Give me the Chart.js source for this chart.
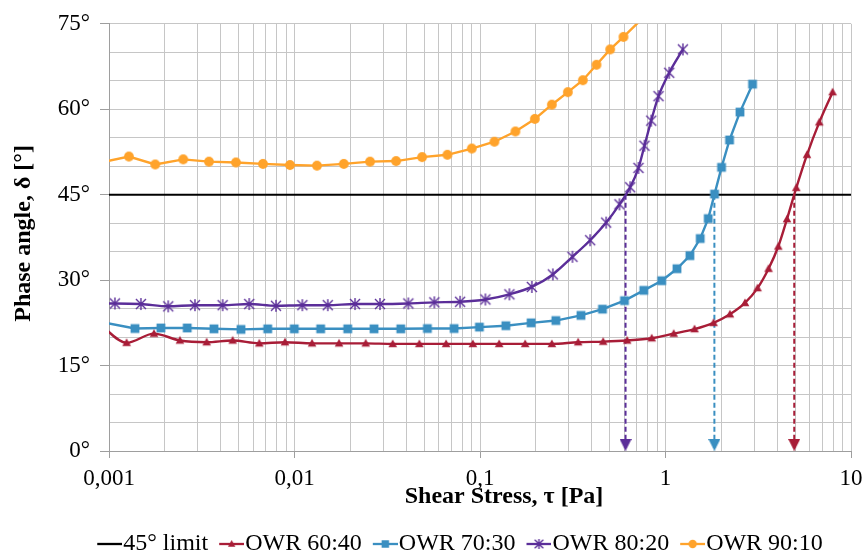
<!DOCTYPE html>
<html>
<head>
<meta charset="utf-8">
<title>Phase angle vs shear stress</title>
<script src="https://cdn.jsdelivr.net/npm/chart.js@4/dist/chart.umd.min.js"></script>
<style>
html, body { margin: 0; padding: 0; background: #ffffff; }
canvas { display: block; }
</style>
</head>
<body>
<canvas id="chart" width="866" height="559"></canvas>
<script>
// ---------------- data ----------------
const xTickValues = [0.001, 0.01, 0.1, 1, 10];
const xTickLabels = ['0,001', '0,01', '0,1', '1', '10'];
const yTickValues = [0, 15, 30, 45, 60, 75];
const yTickLabels = ['0°', '15°', '30°', '45°', '60°', '75°'];
const xAxisTitle = 'Shear Stress, τ [Pa]';
const yAxisTitle = 'Phase angle, δ [°]';
const limitLabel = '45° limit';
const limitValue = 45;
const seriesNames = ['OWR 60:40', 'OWR 70:30', 'OWR 80:20', 'OWR 90:10'];

const stress6040 = [0.00089, 0.001244, 0.001747, 0.002412, 0.00336, 0.004642, 0.006459, 0.008887, 0.01243, 0.01738, 0.02421, 0.03385, 0.04711, 0.06566, 0.09147, 0.1268, 0.1751, 0.2439, 0.3381, 0.4613, 0.6215, 0.8425, 1.107, 1.434, 1.815, 2.225, 2.682, 3.135, 3.594, 4.055, 4.516, 5.07, 5.789, 6.745, 7.959];
const phase6040  = [22.3, 19.0, 20.6, 19.4, 19.1, 19.4, 18.9, 19.1, 18.9, 18.9, 18.9, 18.8, 18.8, 18.8, 18.8, 18.8, 18.8, 18.8, 19.1, 19.2, 19.4, 19.8, 20.6, 21.4, 22.5, 24.0, 26.0, 28.6, 32.0, 35.9, 40.7, 46.2, 52.0, 57.7, 63.0];

const stress7030 = [0.00093, 0.00138, 0.001905, 0.002641, 0.00368, 0.005146, 0.007169, 0.009975, 0.01384, 0.01936, 0.02684, 0.0374, 0.05204, 0.07251, 0.09926, 0.1378, 0.1886, 0.2563, 0.3502, 0.4573, 0.6009, 0.7638, 0.9539, 1.153, 1.354, 1.539, 1.70, 1.838, 2.005, 2.214, 2.52, 2.946];
const phase7030  = [22.6, 21.5, 21.6, 21.6, 21.45, 21.35, 21.45, 21.45, 21.45, 21.45, 21.45, 21.45, 21.5, 21.5, 21.75, 22.0, 22.5, 22.9, 23.8, 24.9, 26.4, 28.2, 29.9, 32.0, 34.3, 37.3, 40.8, 45.1, 49.8, 54.6, 59.5, 64.4];

const stress8020 = [0.00077, 0.001076, 0.001486, 0.002086, 0.002906, 0.0041, 0.0057, 0.007946, 0.01102, 0.01511, 0.0212, 0.0289, 0.0411, 0.05675, 0.07809, 0.1069, 0.1441, 0.1903, 0.247, 0.3151, 0.3926, 0.4788, 0.5649, 0.6451, 0.7151, 0.7701, 0.8374, 0.9168, 1.047, 1.241];
const phase8020  = [25.9, 25.9, 25.8, 25.4, 25.6, 25.6, 25.8, 25.5, 25.6, 25.6, 25.8, 25.8, 25.9, 26.1, 26.2, 26.6, 27.5, 28.8, 31.0, 34.1, 37.0, 40.1, 43.3, 46.3, 49.7, 53.6, 58.0, 62.3, 66.4, 70.5];

const stress9010 = [0.00092, 0.00128, 0.001775, 0.002513, 0.003458, 0.004836, 0.006762, 0.009456, 0.01322, 0.01843, 0.02554, 0.03528, 0.04873, 0.06672, 0.09033, 0.1196, 0.1552, 0.1975, 0.2439, 0.2976, 0.3585, 0.4245, 0.5031, 0.5935, 0.822];
const phase9010  = [50.7, 51.7, 50.3, 51.2, 50.8, 50.65, 50.4, 50.2, 50.1, 50.4, 50.8, 50.9, 51.6, 52.0, 53.1, 54.3, 56.1, 58.3, 60.8, 63.0, 65.1, 67.8, 70.5, 72.7, 77.2];

// ---------------- styling ----------------
const FONT = "'Liberation Serif', 'Times New Roman', serif";
const GRID = '#c6c6c6';
const AXIS = '#9e9e9e';
const LEGEND_BOX = 15, LEGEND_PAD = 10, LEGEND_FONT = 24, GLYPH_LEN = 25;
const GLYPH_W = LEGEND_BOX + LEGEND_FONT / 2 + 10;
const LEGEND_DX = 34, LEGEND_DY = 7, XTITLE_DX = 24, YTITLE_DY = -4;

function makeCanvas(w, h, draw) {
  const c = document.createElement('canvas');
  c.width = w; c.height = h;
  draw(c.getContext('2d'));
  return c;
}
function drawMarker(g, kind, color, cx, cy, s) {
  s = s || 1;
  g.fillStyle = color; g.strokeStyle = color;
  if (kind === 'triangle') {
    g.beginPath(); g.moveTo(cx, cy - 4.6 * s); g.lineTo(cx + 4.3 * s, cy + 3.2 * s); g.lineTo(cx - 4.3 * s, cy + 3.2 * s); g.closePath(); g.fill();
  } else if (kind === 'square') {
    g.fillRect(cx - 4.4 * s, cy - 4.4 * s, 8.8 * s, 8.8 * s);
  } else if (kind === 'circle') {
    g.beginPath(); g.arc(cx, cy, 4.9 * s, 0, Math.PI * 2); g.fill();
  } else if (kind === 'asterisk') {
    g.lineWidth = 1.4;
    g.beginPath();
    g.moveTo(cx, cy - 6 * s); g.lineTo(cx, cy + 6 * s);
    g.moveTo(cx - 5 * s, cy - 5 * s); g.lineTo(cx + 5 * s, cy + 5 * s);
    g.moveTo(cx + 5 * s, cy - 5 * s); g.lineTo(cx - 5 * s, cy + 5 * s);
    g.stroke();
  }
}
function markerImage(kind, color) {
  return makeCanvas(14, 14, g => drawMarker(g, kind, color, 7, 7, 1));
}
function legendGlyph(kind, color) {
  return makeCanvas(GLYPH_W, 16, g => {
    const x0 = GLYPH_W - GLYPH_LEN, cy = 8;
    g.strokeStyle = color; g.lineWidth = 2.3;
    g.beginPath(); g.moveTo(x0, cy); g.lineTo(GLYPH_W, cy); g.stroke();
    if (kind) drawMarker(g, kind, color, x0 + GLYPH_LEN / 2, cy, 0.85);
  });
}
function arrowHead(color) {
  return makeCanvas(12, 24, g => {
    g.fillStyle = color;
    g.beginPath(); g.moveTo(0, 0); g.lineTo(12, 0); g.lineTo(6, 12); g.closePath(); g.fill();
  });
}
// x where a series first rises through a level (log interpolation)
function crossing(xs, ys, level) {
  for (let i = 0; i < ys.length - 1; i++) {
    if (ys[i] < level && ys[i + 1] >= level) {
      const f = (level - ys[i]) / (ys[i + 1] - ys[i]);
      return Math.pow(10, Math.log10(xs[i]) + f * (Math.log10(xs[i + 1]) - Math.log10(xs[i])));
    }
  }
  return null;
}

const seriesDefs = [
  { name: seriesNames[0], xs: stress6040, ys: phase6040, color: '#A81D37', marker: 'triangle', smooth: true },
  { name: seriesNames[1], xs: stress7030, ys: phase7030, color: '#3A8FC1', marker: 'square', smooth: false },
  { name: seriesNames[2], xs: stress8020, ys: phase8020, color: '#5B2E99', marker: 'asterisk', smooth: true },
  { name: seriesNames[3], xs: stress9010, ys: phase9010, color: '#FFA32B', marker: 'circle', smooth: false }
];

const datasets = [{
  label: limitLabel,
  data: [xTickValues[0], xTickValues[xTickValues.length - 1]].map(v => ({ x: v, y: limitValue })),
  borderColor: '#000000', borderWidth: 2, pointRadius: 0, order: 5, clip: 0,
  legendGlyph: legendGlyph(null, '#000000')
}];
seriesDefs.forEach(s => {
  datasets.push({
    label: s.name,
    data: s.xs.map((x, i) => ({ x: x, y: s.ys[i] })),
    borderColor: s.color, backgroundColor: s.color, borderWidth: 2.4,
    pointStyle: markerImage(s.marker, s.color), pointRadius: 5,
    cubicInterpolationMode: s.smooth ? 'monotone' : 'default', tension: 0,
    order: 0, clip: 0,
    legendGlyph: legendGlyph(s.marker, s.color)
  });
});
seriesDefs.forEach(s => {
  const xc = crossing(s.xs, s.ys, limitValue);
  if (xc === null) return;
  datasets.push({
    label: s.name + ' arrow',
    data: [{ x: xc, y: limitValue }, { x: xc, y: yTickValues[0] }],
    borderColor: s.color, borderWidth: 2, borderDash: [5, 3],
    pointStyle: arrowHead(s.color),
    pointRadius: ctx => ctx.dataIndex === 1 ? 6 : 0,
    order: 1, clip: 0
  });
});

// grid positions on the log axis: 1..9 x each decade
const xGridValues = [];
for (let d = 0; d < xTickValues.length - 1; d++) {
  for (let m = 1; m < 10; m++) xGridValues.push(+(m * xTickValues[d]).toPrecision(6));
}
xGridValues.push(xTickValues[xTickValues.length - 1]);
function xLabelIndex(v) { return xTickValues.findIndex(t => Math.abs(t - v) / t < 1e-6); }

function shiftTitle(scale, dx, dy) {
  if (!scale || scale.__shifted) return;
  const orig = scale.drawTitle;
  scale.drawTitle = function () { const c = this.ctx; c.save(); c.translate(dx, dy); orig.apply(this, arguments); c.restore(); };
  scale.__shifted = true;
}
const tweaks = {
  id: 'tweaks',
  afterLayout(chart) {
    const lg = chart.legend;
    if (lg) { lg.left += LEGEND_DX; lg.right += LEGEND_DX; lg.top += LEGEND_DY; lg.bottom += LEGEND_DY; }
    shiftTitle(chart.scales.x, XTITLE_DX, 0);
    shiftTitle(chart.scales.y, 0, YTITLE_DY);
  }
};

new Chart(document.getElementById('chart'), {
  type: 'line',
  data: { datasets: datasets },
  plugins: [tweaks],
  options: {
    responsive: false, animation: false, events: [],
    layout: { padding: { top: 21, right: 15, bottom: 0, left: 0 } },
    scales: {
      x: {
        type: 'logarithmic', min: xTickValues[0], max: xTickValues[xTickValues.length - 1],
        afterBuildTicks(scale) { scale.ticks = xGridValues.map(v => ({ value: v, major: xLabelIndex(v) >= 0 })); },
        afterFit(scale) { scale.height = 64; scale.paddingLeft = 0; scale.paddingRight = 0; },
        ticks: {
          autoSkip: false, maxRotation: 0, padding: 7, color: '#000',
          font: { family: FONT, size: 23 },
          callback: v => { const i = xLabelIndex(v); return i >= 0 ? xTickLabels[i] : ''; }
        },
        grid: {
          color: GRID, lineWidth: 1, tickLength: 7,
          tickColor: ctx => (ctx.tick && xLabelIndex(ctx.tick.value) >= 0) ? AXIS : 'rgba(0,0,0,0)'
        },
        border: { color: AXIS, width: 1 },
        title: { display: true, text: xAxisTitle, color: '#000', font: { family: FONT, size: 24, weight: 'bold' }, padding: { top: 0, bottom: 4 } }
      },
      y: {
        type: 'linear', min: yTickValues[0], max: yTickValues[yTickValues.length - 1],
        afterFit(scale) { scale.width = 109; },
        ticks: {
          stepSize: 5, autoSkip: false, padding: 10, color: '#000',
          font: { family: FONT, size: 23 },
          callback: v => { const i = yTickValues.indexOf(v); return i >= 0 ? yTickLabels[i] : ''; }
        },
        grid: {
          color: GRID, lineWidth: 1, tickLength: 9,
          tickColor: ctx => (ctx.tick && yTickValues.indexOf(ctx.tick.value) >= 0) ? AXIS : 'rgba(0,0,0,0)'
        },
        border: { color: AXIS, width: 1 },
        title: { display: true, text: yAxisTitle, color: '#000', font: { family: FONT, size: 24, weight: 'bold' }, padding: { top: 9, bottom: 0 } }
      }
    },
    plugins: {
      tooltip: { enabled: false },
      legend: {
        position: 'bottom',
        labels: {
          usePointStyle: true, pointStyleWidth: LEGEND_BOX, padding: LEGEND_PAD,
          color: '#000', font: { family: FONT, size: LEGEND_FONT },
          sort: (a, b) => a.datasetIndex - b.datasetIndex,
          generateLabels(chart) {
            const items = Chart.defaults.plugins.legend.labels.generateLabels(chart);
            return items.filter(it => chart.data.datasets[it.datasetIndex].legendGlyph).map(it => {
              it.pointStyle = chart.data.datasets[it.datasetIndex].legendGlyph;
              it.rotation = 0;
              return it;
            });
          }
        }
      }
    }
  }
});
</script>
</body>
</html>
